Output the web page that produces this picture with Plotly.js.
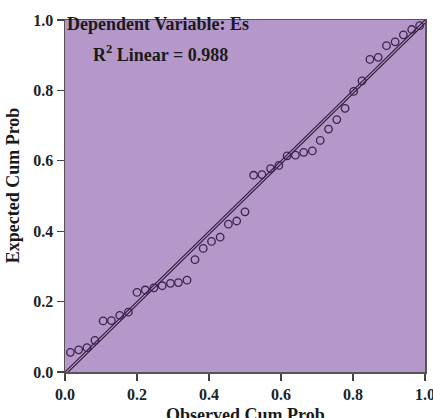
<!DOCTYPE html>
<html>
<head>
<meta charset="utf-8">
<script src="https://cdn.plot.ly/plotly-3.0.1.min.js"></script>
<style>html,body{margin:0;padding:0;background:#fff;overflow:hidden;}#chart{width:433px;height:418px;}</style>
</head>
<body>
<div id="chart"></div>
<script>
// Observed cumulative probability (x) and expected cumulative probability (y)
var observedCumProb = [0.015,0.038,0.061,0.083,0.106,0.129,0.152,0.176,0.200,0.223,
  0.247,0.270,0.293,0.315,0.339,0.361,0.384,0.407,0.431,0.454,
  0.477,0.500,0.524,0.547,0.571,0.594,0.617,0.640,0.663,0.687,
  0.709,0.732,0.755,0.778,0.802,0.825,0.847,0.870,0.893,0.917,
  0.940,0.963,0.985];
var expectedCumProb = [0.056,0.063,0.069,0.090,0.145,0.146,0.161,0.170,0.226,0.233,
  0.239,0.245,0.252,0.254,0.261,0.319,0.351,0.371,0.383,0.420,
  0.429,0.455,0.559,0.561,0.578,0.587,0.614,0.616,0.624,0.628,
  0.658,0.690,0.717,0.749,0.797,0.827,0.888,0.894,0.927,0.938,
  0.958,0.973,0.984];
var refLine = [0, 1];
var fitIntercept = -0.009;
var fitSlope = 1.0;
var tickVals = [0, 0.2, 0.4, 0.6, 0.8, 1.0];
var tickText = ["0.0", "0.2", "0.4", "0.6", "0.8", "1.0"];

var lineColor = '#2b1a36';
var fitY = refLine.map(function(x){ return fitIntercept + fitSlope * x; });

var traces = [
  {x: refLine, y: refLine, mode: 'lines', line: {color: lineColor, width: 1.1}, hoverinfo: 'skip'},
  {x: refLine, y: fitY, mode: 'lines', line: {color: lineColor, width: 1.1}, hoverinfo: 'skip'},
  {x: observedCumProb, y: expectedCumProb, mode: 'markers',
   marker: {symbol: 'circle-open', size: 7.5, color: '#3b2250', line: {width: 1.3, color: '#3b2250'}}}
];

var serif = '"Liberation Serif", "Times New Roman", serif';
var axisCommon = {
  range: [0, 1], tickvals: tickVals, ticktext: tickText,
  ticks: 'outside', ticklen: 7, tickwidth: 1.3, tickcolor: '#444',
  showgrid: false, zeroline: false, showline: true, mirror: true,
  linecolor: '#555', linewidth: 1.5,
  ticklabeloverflow: 'allow',
  tickfont: {family: serif, size: 16, color: '#222', weight: 'bold'},
  fixedrange: true
};

var layout = {
  width: 433, height: 418,
  margin: {l: 65, r: 8, t: 20, b: 46, pad: 0},
  paper_bgcolor: '#ffffff',
  plot_bgcolor: '#b598c9',
  showlegend: false,
  xaxis: Object.assign({}, axisCommon),
  yaxis: Object.assign({}, axisCommon),
  annotations: [
    {xref: 'paper', yref: 'paper', x: 0.0, y: 0.9886, xanchor: 'left', yanchor: 'middle',
     text: '<b>Dependent Variable: Es</b>', showarrow: false,
     font: {family: serif, size: 18, color: '#1a1a1a'}},
    {xref: 'paper', yref: 'paper', x: 0.072, y: 0.906, xanchor: 'left', yanchor: 'middle',
     text: '<b>R<sup>2</sup> Linear = 0.988</b>', showarrow: false,
     font: {family: serif, size: 18, color: '#1a1a1a'}},
    {xref: 'paper', yref: 'paper', x: 0.5, y: -0.122, xanchor: 'center', yanchor: 'middle',
     text: '<b>Observed Cum Prob</b>', showarrow: false,
     font: {family: serif, size: 18, color: '#1a1a1a'}},
    {xref: 'paper', yref: 'paper', x: -0.142, y: 0.53, xanchor: 'center', yanchor: 'middle',
     textangle: -90, text: '<b>Expected Cum Prob</b>', showarrow: false,
     font: {family: serif, size: 18, color: '#1a1a1a'}}
  ]
};

Plotly.newPlot('chart', traces, layout, {displayModeBar: false, staticPlot: true});
</script>
</body>
</html>
